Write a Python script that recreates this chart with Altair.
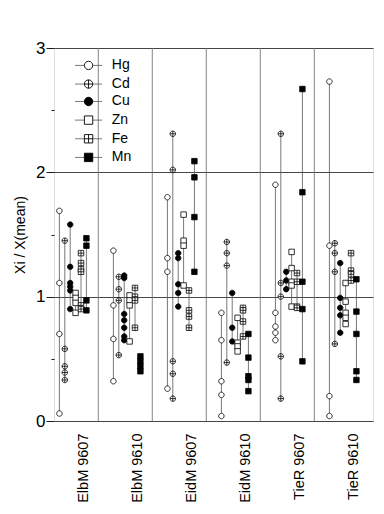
import altair as alt
import pandas as pd

CATEGORIES = ["ElbM 9607", "ElbM 9610", "EidM 9607", "EidM 9610", "TieR 9607", "TieR 9610"]
SERIES = ["Hg", "Cd", "Cu", "Zn", "Fe", "Mn"]

HG = [[1.69, 1.11, 0.70, 0.06], [1.37, 0.93, 0.66, 0.32], [1.80, 1.31, 1.20, 0.26],
      [0.87, 0.65, 0.32, 0.21, 0.04], [1.90, 0.87, 0.76, 0.71, 0.65], [2.73, 1.41, 0.20, 0.04]]
CD = [[1.45, 0.58, 0.44, 0.39, 0.33], [1.16, 1.06, 0.97, 0.53], [2.31, 2.02, 0.48, 0.38, 0.18],
      [1.44, 1.35, 1.25, 0.47], [2.31, 1.11, 1.00, 0.52, 0.18], [1.43, 1.35, 1.20, 0.62]]
CU = [[1.58, 1.24, 1.11, 1.08, 1.05, 0.90], [1.17, 1.15, 0.86, 0.81, 0.75, 0.68, 0.65],
      [1.35, 1.31, 1.10, 1.03, 0.92], [1.03, 0.75, 0.64], [1.20, 1.13, 1.06],
      [1.27, 0.99, 0.91, 0.85, 0.71]]
ZN = [[1.03, 0.99, 0.95, 0.87], [1.01, 0.97, 0.93, 0.64], [1.66, 1.45, 1.41, 1.09],
      [0.83, 0.63, 0.60, 0.56], [1.36, 1.23, 1.12, 1.09, 0.92], [1.11, 0.96, 0.87, 0.83, 0.78]]
FE = [[1.35, 1.27, 1.22, 1.20, 0.93, 0.90], [1.07, 1.00, 0.97, 0.75], [1.05, 0.89, 0.84, 0.75],
      [0.91, 0.89, 0.80, 0.68], [1.19, 1.12, 0.92, 0.91], [1.35, 1.21, 1.18, 1.13]]
MN = [[1.47, 1.41, 0.97, 0.89], [0.52, 0.48, 0.44, 0.40], [2.09, 1.96, 1.64, 1.20],
      [0.70, 0.51, 0.36, 0.33, 0.24], [2.67, 1.84, 1.12, 0.90, 0.48], [1.14, 0.88, 0.70, 0.40, 0.33]]

VALUES = {"Hg": HG, "Cd": CD, "Cu": CU, "Zn": ZN, "Fe": FE, "Mn": MN}

FONT = "Liberation Sans"

rows = []
for j, s in enumerate(SERIES):
    for i, vals in enumerate(VALUES[s]):
        for v in vals:
            rows.append({"cat": CATEGORIES[i], "series": s, "xpos": i + 0.1 + 0.1 * j, "value": v})
df = pd.DataFrame(rows)

sep_df = pd.DataFrame({"xs": [k + 0.82 for k in range(len(CATEGORIES) - 1)]})

legend_y = [2.86, 2.71, 2.57, 2.42, 2.27, 2.12]
leg_df = pd.DataFrame({"series": SERIES, "ly": legend_y,
                       "lx1": 0.39, "lx2": 0.89, "sx": 0.64, "tx": 1.07})

circ = "M-1,0A1,1,0,1,1,1,0A1,1,0,1,1,-1,0Z"
sq = "M-1,-1L1,-1L1,1L-1,1Z"
cross = "M-1,0L1,0M0,-1L0,1"
shape_scale = alt.Scale(domain=SERIES, range=[circ, circ + cross, circ, sq, sq + cross, sq])
fill_scale = alt.Scale(domain=SERIES, range=["white", "white", "black", "white", "white", "black"])

label_list = "[" + ",".join("'%s'" % c for c in CATEGORIES) + "]"

x_scale = alt.Scale(domain=[0, 5.907], nice=False, zero=False)
y_scale = alt.Scale(domain=[0, 3], nice=False)

x_axis = alt.Axis(values=[i + 0.54 for i in range(len(CATEGORIES))],
                  labelExpr=label_list + "[round(datum.value - 0.54)]",
                  labelAngle=-90, labelAlign="right", labelBaseline="middle",
                  ticks=False, grid=False, domain=False, title=None,
                  labelFont=FONT, labelFontSize=14.5, labelColor="black", labelPadding=12)
y_axis = alt.Axis(values=[0, 0.5, 1, 1.5, 2, 2.5, 3],
                  labelExpr="datum.value % 1 === 0 ? format(datum.value, 'd') : ''",
                  tickSize={"condition": {"test": "datum.value % 1 === 0", "value": 8}, "value": 3},
                  gridOpacity={"condition": {"test": "datum.value % 1 === 0", "value": 1}, "value": 0},
                  grid=True, gridColor="#333333", gridWidth=0.9,
                  tickColor="black", tickWidth=0.9, domain=False,
                  labelFont=FONT, labelFontSize=17, labelColor="black", labelPadding=1,
                  title="Xi / X(mean)", titleFont=FONT, titleFontSize=14,
                  titleFontWeight="normal", titleColor="black", titlePadding=8)

base = alt.Chart(df)

ranges = base.mark_rule(color="#555555", strokeWidth=0.8).encode(
    x=alt.X("xpos:Q", scale=x_scale, axis=x_axis),
    y=alt.Y("min(value):Q", scale=y_scale, axis=y_axis),
    y2="max(value):Q",
    detail="series:N",
)

seps = alt.Chart(sep_df).mark_rule(color="#777777", strokeWidth=0.9).encode(
    x=alt.X("xs:Q", scale=x_scale),
    y=alt.value(0),
    y2=alt.value(373),
)

points = base.mark_point(stroke="black", strokeWidth=0.8, size=30, filled=False, opacity=1).encode(
    x=alt.X("xpos:Q", scale=x_scale),
    y=alt.Y("value:Q", scale=y_scale),
    shape=alt.Shape("series:N", scale=shape_scale, legend=None),
    fill=alt.Fill("series:N", scale=fill_scale, legend=None),
)

leg_lines = alt.Chart(leg_df).mark_rule(color="#555555", strokeWidth=0.8).encode(
    x=alt.X("lx1:Q", scale=x_scale), x2="lx2:Q", y=alt.Y("ly:Q", scale=y_scale))
leg_pts = alt.Chart(leg_df).mark_point(stroke="black", strokeWidth=0.9, size=70, opacity=1).encode(
    x=alt.X("sx:Q", scale=x_scale), y=alt.Y("ly:Q", scale=y_scale),
    shape=alt.Shape("series:N", scale=shape_scale, legend=None),
    fill=alt.Fill("series:N", scale=fill_scale, legend=None))
leg_text = alt.Chart(leg_df).mark_text(align="left", baseline="middle", font=FONT,
                                       fontSize=14, color="black").encode(
    x=alt.X("tx:Q", scale=x_scale), y=alt.Y("ly:Q", scale=y_scale), text="series:N")

chart = alt.layer(seps, ranges, points, leg_lines, leg_pts, leg_text).properties(
    width=319, height=373,
    autosize=alt.AutoSizeParams(type="none"),
    padding={"left": 54, "top": 48, "right": 11, "bottom": 93},
).configure_view(stroke="black", strokeWidth=1).configure(background="white")

chart.save("out.html", embed_options={"renderer": "svg", "actions": False})
